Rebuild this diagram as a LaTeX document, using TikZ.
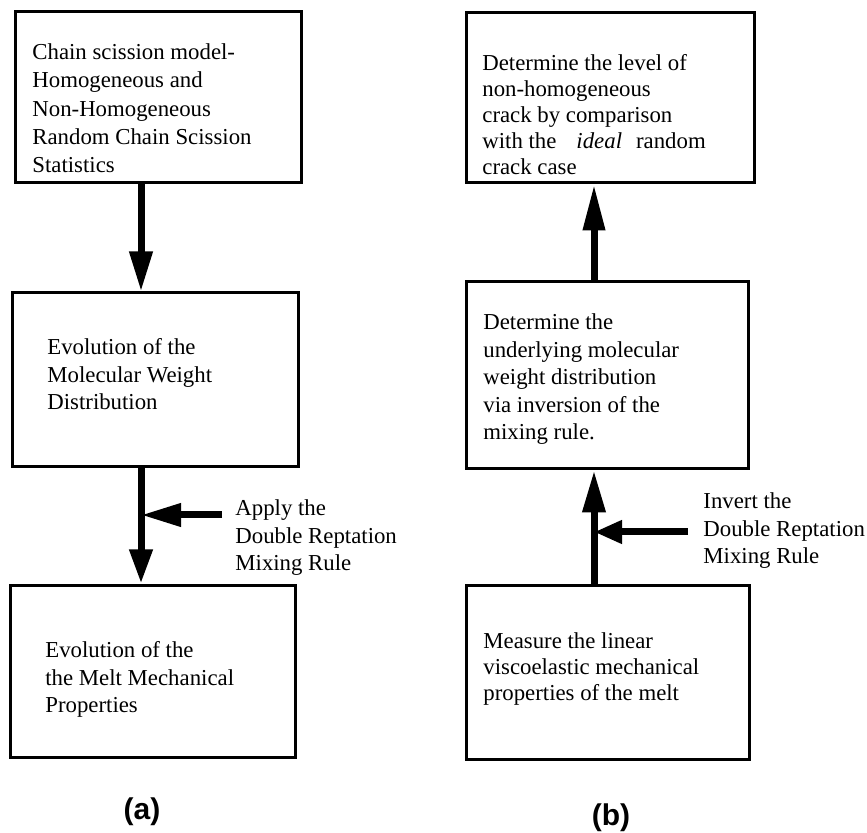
\documentclass[tikz,border=0pt]{standalone}
\usepackage{fontspec}
\setmainfont{Liberation Serif}
\newfontfamily\capfont{Liberation Sans}
\usetikzlibrary{arrows.meta}

\begin{document}
\begin{tikzpicture}[x=0.5pt, y=-0.5pt,
	box/.style={shape=rectangle, draw=black, line width=1.5pt, inner sep=0pt},
	txt/.style={anchor=north west, align=left, inner sep=0pt, font=\fontsize{11.4}{13.75}\selectfont},
	flow/.style={line width=3.5pt, -{Triangle[length=20pt,width=11pt]}},
	figlabel/.style={font=\capfont\bfseries\fontsize{15}{17}\selectfont}]
	
	\useasboundingbox (0,0) rectangle (867,833);
	
	% (a)
	\node[box, minimum width=143pt, minimum height=85.5pt] (a1) at (158, 97.5) {};
	\node[box, minimum width=143pt, minimum height=87pt]   (a2) at (155, 380)  {};
	\node[box, minimum width=142.5pt, minimum height=86pt] (a3) at (152.5, 671) {};
	
	\node[txt, font=\fontsize{11.4}{14.1}\selectfont] (ta1) at (32, 43.4) {Chain scission model-\\Homogeneous and\\Non-Homogeneous\\Random Chain Scission\\Statistics};
	\node[txt] (ta2) at (47, 338.4) {Evolution of the\\Molecular Weight\\Distribution};
	\node[txt] (ta3) at (45, 641.4) {Evolution of the\\the Melt Mechanical\\Properties};
	
	% (b)
	\node[box, minimum width=144pt, minimum height=85pt]   (b1) at (610, 98)    {};
	\node[box, minimum width=141pt, minimum height=93.5pt] (b2) at (607, 375.5) {};
	\node[box, minimum width=141.5pt, minimum height=87pt] (b3) at (607.5, 672) {};
	
	\node[txt, font=\fontsize{11.4}{12.9}\selectfont] (tb1) at (482, 54.4) {Determine the level of\\non-homogeneous\\crack by comparison\\with the\hspace{10pt}\textit{ideal}\hspace{7pt}random\\crack case};
	\node[txt] (tb2) at (483, 313.4) {Determine the\\underlying molecular\\weight distribution\\via inversion of the\\mixing rule.};
	\node[txt, font=\fontsize{11.4}{12.9}\selectfont] (tb3) at (483, 632.4) {Measure the linear\\viscoelastic mechanical\\properties of the melt};
	
	% arrows
	\coordinate (ax) at (141, 0);
	\coordinate (bx) at (594, 0);
	\draw[flow] (a1.south -| ax) -- (a2.north -| ax);
	\draw[flow, -{Triangle[length=17pt,width=11pt]}] (a2.south -| ax) -- (a3.north -| ax);
	\draw[flow, -{Triangle[length=23pt,width=10.5pt]}] (b2.north -| bx) -- (b1.south -| bx);
	\draw[flow, -{Triangle[length=21pt,width=11pt]}] (b3.north -| bx) -- (b2.south -| bx);
	
	\coordinate (sa) at (222, 515);
	\coordinate (sb) at (688, 532);
	\draw[flow] (sa) -- (sa -| ax);
	\draw[flow, -{Triangle[length=14pt,width=11pt]}] (sb) -- (sb -| bx);
	
	\node[txt] (la) at (235, 499.4) {Apply the\\Double Reptation\\Mixing Rule};
	\node[txt] (lb) at (703, 492.4) {Invert the\\Double Reptation\\Mixing Rule};
	
	\node[figlabel] (capa) at (142, 812) {(a)};
	\node[figlabel] (capb) at (611, 818) {(b)};
	
\end{tikzpicture}
\end{document}
